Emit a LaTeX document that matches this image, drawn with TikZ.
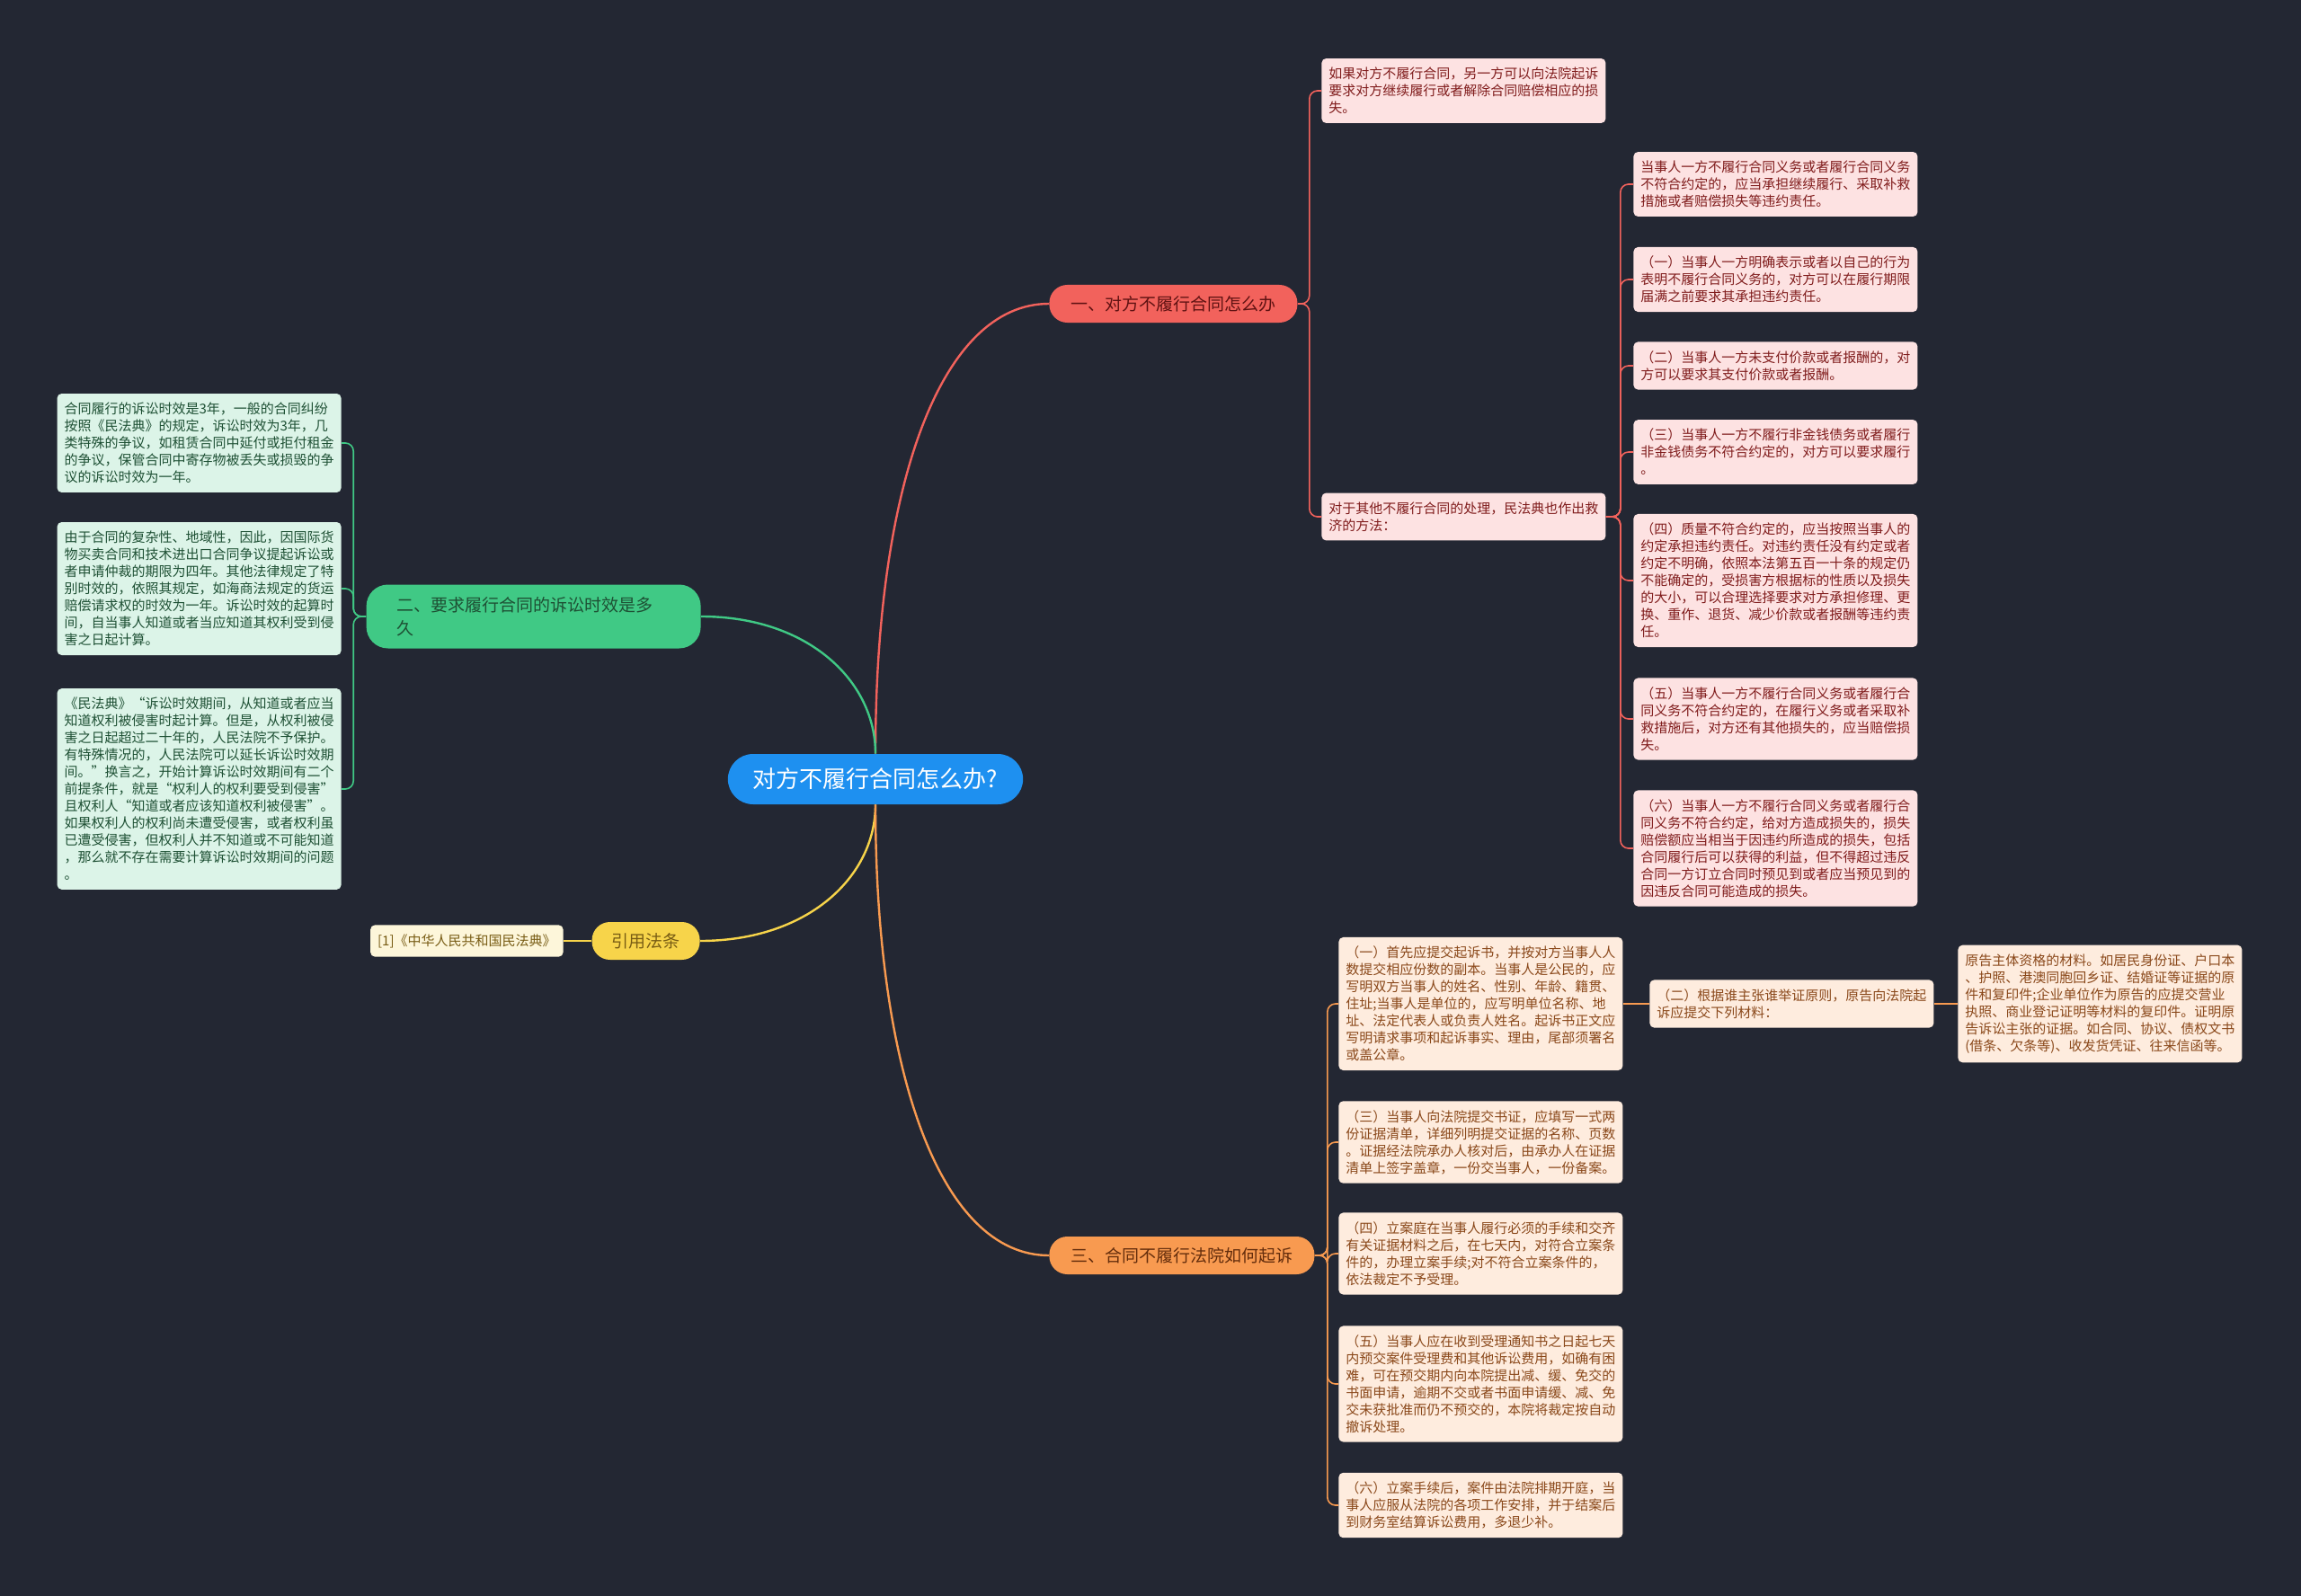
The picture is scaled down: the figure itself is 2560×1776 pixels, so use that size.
\documentclass[tikz,border=0pt]{standalone}
\usepackage{fontspec}
\newfontfamily\cjkfont{Noto Sans CJK SC}
\usetikzlibrary{positioning, calc}
\definecolor{BgColor}{RGB}{35,39,51}
\definecolor{RootColor}{RGB}{30,144,240}
\definecolor{RedMain}{RGB}{242,98,92}
\definecolor{RedLeaf}{RGB}{253,226,226}
\definecolor{RedText}{RGB}{128,28,28}
\definecolor{RedDark}{RGB}{95,18,18}
\definecolor{GreenMain}{RGB}{64,201,133}
\definecolor{GreenLeaf}{RGB}{220,244,232}
\definecolor{GreenText}{RGB}{30,80,52}
\definecolor{YellowMain}{RGB}{247,212,74}
\definecolor{YellowLeaf}{RGB}{253,246,218}
\definecolor{YellowText}{RGB}{120,92,20}
\definecolor{OrangeMain}{RGB}{248,154,80}
\definecolor{OrangeLeaf}{RGB}{254,236,222}
\definecolor{OrangeText}{RGB}{138,72,26}
\definecolor{OrangeDark}{RGB}{100,45,12}

\begin{document}
\begin{tikzpicture}[x=0.5pt,y=-0.5pt,
    leaf/.style={rounded corners=2.5pt, inner xsep=4pt, inner ysep=5pt, text width=150pt, align=left,
      font=\cjkfont\fontsize{7.5pt}{9.5pt}\selectfont},
    leafred/.style={leaf, fill=RedLeaf, text=RedText},
    leafgreen/.style={leaf, fill=GreenLeaf, text=GreenText},
    leaforange/.style={leaf, fill=OrangeLeaf, text=OrangeText},
    mainbox/.style={rounded corners=10pt, minimum height=21pt, inner xsep=12pt,
      font=\cjkfont\fontsize{9.5pt}{13pt}\selectfont},
    link/.style={line width=0.8pt, rounded corners=4.5pt},
    curve/.style={line width=1.2pt}]
  \fill[BgColor] (0,0) rectangle (2560,1776);
  \useasboundingbox (0,0) rectangle (2560,1776);

  % centre and main branches
  \node[fill=RootColor, text=white, rounded corners=14pt, minimum height=28pt, inner xsep=14pt,
    font=\cjkfont\fontsize{13pt}{16pt}\selectfont] (root) at (974,867) {对方不履行合同怎么办?};
  \node[mainbox, fill=RedMain, text=RedDark, anchor=west] (br1) at (1167,338) {一、对方不履行合同怎么办};
  \node[mainbox, fill=GreenMain, text=GreenText, anchor=east, rounded corners=12pt, text width=152pt,
    align=left, inner xsep=17pt, minimum height=35.5pt] (br2) at (780,686) {二、要求履行合同的诉讼时效是多\\久};
  \node[mainbox, fill=YellowMain, text=YellowText, anchor=east, inner xsep=11pt] (br3) at (779,1047) {引用法条};
  \node[mainbox, fill=OrangeMain, text=OrangeDark, anchor=west] (br4) at (1167,1397) {三、合同不履行法院如何起诉};

  \draw[curve, RedMain] (root.north) .. controls +(0,-300) and +(-120,0) .. (br1.west);
  \draw[curve, GreenMain] (root.north) .. controls +(0,-80) and +(120,0) .. (br2.east);
  \draw[curve, YellowMain] (root.south) .. controls +(0,80) and +(120,0) .. (br3.east);
  \draw[curve, OrangeMain] (root.south) .. controls +(0,300) and +(-120,0) .. (br4.west);

  % branch one
  \node[leafred, anchor=west] (r0) at (1470,101) {如果对方不履行合同，另一方可以向法院起诉\\要求对方继续履行或者解除合同赔偿相应的损\\失。};
  \node[leafred, anchor=west] (r1) at (1470,575) {对于其他不履行合同的处理，民法典也作出救\\济的方法：};
  \node[leafred, anchor=west] (c1) at (1817,205) {当事人一方不履行合同义务或者履行合同义务\\不符合约定的，应当承担继续履行、采取补救\\措施或者赔偿损失等违约责任。};
  \node[leafred, anchor=west] (c2) at (1817,311) {（一）当事人一方明确表示或者以自己的行为\\表明不履行合同义务的，对方可以在履行期限\\届满之前要求其承担违约责任。};
  \node[leafred, anchor=west] (c3) at (1817,407) {（二）当事人一方未支付价款或者报酬的，对\\方可以要求其支付价款或者报酬。};
  \node[leafred, anchor=west] (c4) at (1817,503) {（三）当事人一方不履行非金钱债务或者履行\\非金钱债务不符合约定的，对方可以要求履行\\。};
  \node[leafred, anchor=west] (c5) at (1817,646) {（四）质量不符合约定的，应当按照当事人的\\约定承担违约责任。对违约责任没有约定或者\\约定不明确，依照本法第五百一十条的规定仍\\不能确定的，受损害方根据标的性质以及损失\\的大小，可以合理选择要求对方承担修理、更\\换、重作、退货、减少价款或者报酬等违约责\\任。};
  \node[leafred, anchor=west] (c6) at (1817,800) {（五）当事人一方不履行合同义务或者履行合\\同义务不符合约定的，在履行义务或者采取补\\救措施后，对方还有其他损失的，应当赔偿损\\失。};
  \node[leafred, anchor=west] (c7) at (1817,944) {（六）当事人一方不履行合同义务或者履行合\\同义务不符合约定，给对方造成损失的，损失\\赔偿额应当相当于因违约所造成的损失，包括\\合同履行后可以获得的利益，但不得超过违反\\合同一方订立合同时预见到或者应当预见到的\\因违反合同可能造成的损失。};

  \coordinate (jr) at ($(br1.east)+(13,0)$);
  \foreach \n in {r0,r1}
    \draw[link, RedMain] (br1.east) -- (jr) |- (\n.west);
  \coordinate (jc) at ($(r1.east)+(16,0)$);
  \foreach \i in {1,...,7}
    \draw[link, RedMain] (r1.east) -- (jc) |- (c\i.west);

  % branch two
  \node[leafgreen, anchor=east] (g1) at (380,493) {合同履行的诉讼时效是3年，一般的合同纠纷\\按照《民法典》的规定，诉讼时效为3年，几\\类特殊的争议，如租赁合同中延付或拒付租金\\的争议，保管合同中寄存物被丢失或损毁的争\\议的诉讼时效为一年。};
  \node[leafgreen, anchor=east] (g2) at (380,655) {由于合同的复杂性、地域性，因此，因国际货\\物买卖合同和技术进出口合同争议提起诉讼或\\者申请仲裁的期限为四年。其他法律规定了特\\别时效的，依照其规定，如海商法规定的货运\\赔偿请求权的时效为一年。诉讼时效的起算时\\间，自当事人知道或者当应知道其权利受到侵\\害之日起计算。};
  \node[leafgreen, anchor=east] (g3) at (380,878) {《民法典》“诉讼时效期间，从知道或者应当\\知道权利被侵害时起计算。但是，从权利被侵\\害之日起超过二十年的，人民法院不予保护。\\有特殊情况的，人民法院可以延长诉讼时效期\\间。”换言之，开始计算诉讼时效期间有二个\\前提条件，就是“权利人的权利要受到侵害”\\且权利人“知道或者应该知道权利被侵害”。\\如果权利人的权利尚未遭受侵害，或者权利虽\\已遭受侵害，但权利人并不知道或不可能知道\\，那么就不存在需要计算诉讼时效期间的问题\\。};

  \coordinate (jg) at ($(br2.west)+(-14,0)$);
  \foreach \i in {1,2,3}
    \draw[link, GreenMain] (br2.west) -- (jg) |- (g\i.east);

  % citation
  \node[rounded corners=2.5pt, inner xsep=4pt, inner ysep=5pt, fill=YellowLeaf, text=YellowText,
    font=\cjkfont\fontsize{7.5pt}{9.5pt}\selectfont, anchor=east] (cite) at (627,1047) {[1]《中华人民共和国民法典》};
  \draw[link, YellowMain] (br3.west) -- (cite.east);

  % branch three
  \node[leaforange, anchor=west] (o1) at (1489,1117) {（一）首先应提交起诉书，并按对方当事人人\\数提交相应份数的副本。当事人是公民的，应\\写明双方当事人的姓名、性别、年龄、籍贯、\\住址;当事人是单位的，应写明单位名称、地\\址、法定代表人或负责人姓名。起诉书正文应\\写明请求事项和起诉事实、理由，尾部须署名\\或盖公章。};
  \node[leaforange, anchor=west] (o2) at (1489,1271) {（三）当事人向法院提交书证，应填写一式两\\份证据清单，详细列明提交证据的名称、页数\\。证据经法院承办人核对后，由承办人在证据\\清单上签字盖章，一份交当事人，一份备案。};
  \node[leaforange, anchor=west] (o3) at (1489,1395) {（四）立案庭在当事人履行必须的手续和交齐\\有关证据材料之后，在七天内，对符合立案条\\件的，办理立案手续;对不符合立案条件的，\\依法裁定不予受理。};
  \node[leaforange, anchor=west] (o4) at (1489,1540) {（五）当事人应在收到受理通知书之日起七天\\内预交案件受理费和其他诉讼费用，如确有困\\难，可在预交期内向本院提出减、缓、免交的\\书面申请，逾期不交或者书面申请缓、减、免\\交未获批准而仍不预交的，本院将裁定按自动\\撤诉处理。};
  \node[leaforange, anchor=west] (o5) at (1489,1675) {（六）立案手续后，案件由法院排期开庭，当\\事人应服从法院的各项工作安排，并于结案后\\到财务室结算诉讼费用，多退少补。};
  \node[leaforange, anchor=west] (p2) at (1835,1117) {（二）根据谁主张谁举证原则，原告向法院起\\诉应提交下列材料：};
  \node[leaforange, anchor=west] (p3) at (2178,1117) {原告主体资格的材料。如居民身份证、户口本\\、护照、港澳同胞回乡证、结婚证等证据的原\\件和复印件;企业单位作为原告的应提交营业\\执照、商业登记证明等材料的复印件。证明原\\告诉讼主张的证据。如合同、协议、债权文书\\(借条、欠条等)、收发货凭证、往来信函等。};

  \coordinate (jo) at ($(br4.east)+(14,0)$);
  \foreach \i in {1,...,5}
    \draw[link, OrangeMain] (br4.east) -- (jo) |- (o\i.west);
  \draw[link, OrangeMain] (o1.east) -- (p2.west);
  \draw[link, OrangeMain] (p2.east) -- (p3.west);
\end{tikzpicture}
\end{document}
